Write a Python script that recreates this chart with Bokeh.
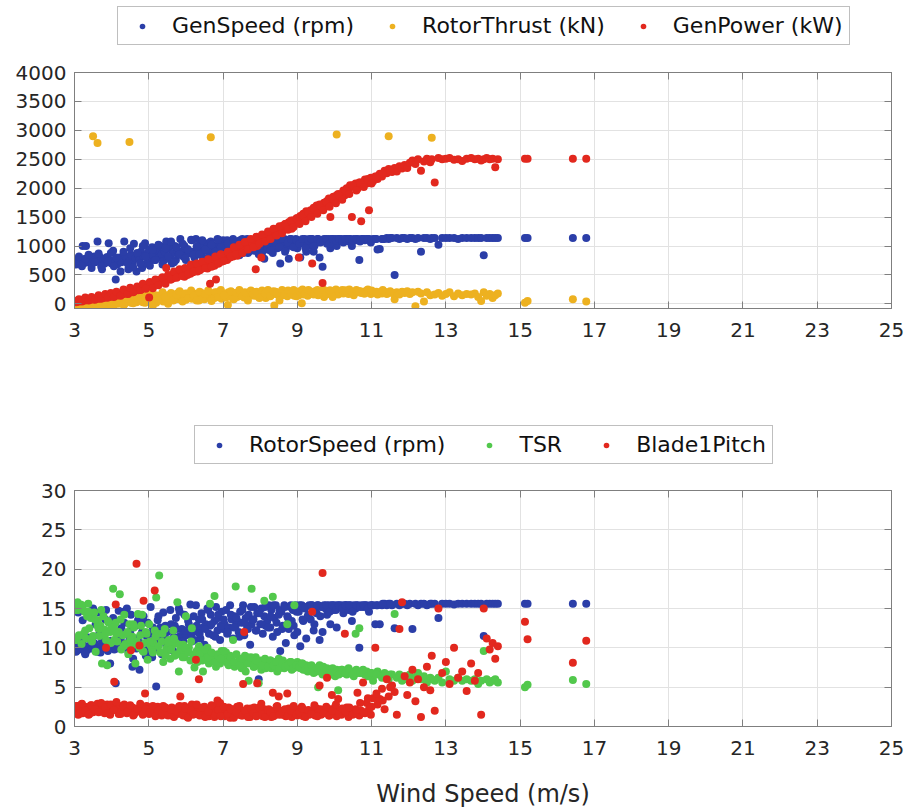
from bokeh.plotting import figure
from bokeh.layouts import column
from bokeh.models import Range1d, FixedTicker, LinearAxis, Legend, LegendItem
from bokeh.embed import file_html
from bokeh.resources import INLINE

# ---------------- data ----------------
wind = [
    3.02, 3.05, 3.08, 3.10, 3.13, 3.16, 3.19, 3.22, 3.25, 3.28,
    3.31, 3.34, 3.37, 3.40, 3.44, 3.47, 3.50, 3.53, 3.57, 3.62,
    3.63, 3.67, 3.70, 3.74, 3.78, 3.81, 3.85, 3.88, 3.92, 3.96,
    4.00, 4.04, 4.07, 4.11, 4.15, 4.19, 4.22, 4.26, 4.30, 4.34,
    4.37, 4.41, 4.45, 4.48, 4.52, 4.56, 4.60, 4.64, 4.67, 4.71,
    4.75, 4.79, 4.82, 4.86, 4.90, 4.94, 4.97, 5.01, 5.05, 5.09,
    5.12, 5.16, 5.20, 5.24, 5.28, 5.31, 5.35, 5.39, 5.43, 5.47,
    5.50, 5.54, 5.58, 5.62, 5.66, 5.70, 5.73, 5.77, 5.81, 5.85,
    5.89, 5.93, 5.96, 6.00, 6.04, 6.08, 6.12, 6.16, 6.19, 6.23,
    6.27, 6.31, 6.35, 6.39, 6.42, 6.46, 6.50, 6.54, 6.58, 6.62,
    6.65, 6.67, 6.73, 6.77, 6.81, 6.85, 6.88, 6.92, 6.96, 7.00,
    7.04, 7.08, 7.11, 7.15, 7.19, 7.23, 7.27, 7.31, 7.34, 7.38,
    7.42, 7.46, 7.50, 7.54, 7.57, 7.61, 7.65, 7.69, 7.73, 7.77,
    7.80, 7.84, 7.88, 7.92, 7.96, 8.00, 8.03, 8.07, 8.11, 8.15,
    8.19, 8.23, 8.27, 8.30, 8.34, 8.38, 8.42, 8.46, 8.50, 8.54,
    8.57, 8.61, 8.65, 8.69, 8.73, 8.77, 8.81, 8.85, 8.88, 8.92,
    8.96, 9.00, 9.04, 9.08, 9.12, 9.16, 9.20, 9.24, 9.28, 9.32,
    9.36, 9.40, 9.44, 9.48, 9.52, 9.56, 9.60, 9.64, 9.68, 9.72,
    9.76, 9.80, 9.85, 9.89, 9.93, 9.97, 10.02, 10.06, 10.10, 10.15,
    10.19, 10.24, 10.28, 10.33, 10.38, 10.42, 10.47, 10.52, 10.57, 10.62,
    10.67, 10.72, 10.77, 10.82, 10.87, 10.93, 10.98, 11.04, 11.10, 11.16,
    11.22, 11.28, 11.35, 11.41, 11.46, 11.55, 11.62, 11.68, 11.75, 11.82,
    11.89, 11.96, 12.03, 12.10, 12.18, 12.25, 12.33, 12.41, 12.49, 12.58,
    12.62, 12.70, 12.80, 12.90, 13.00, 13.10, 13.22, 13.33, 13.44, 13.56,
    13.68, 13.78, 13.87, 13.95, 14.02, 14.10, 14.18, 14.26, 14.33, 14.40,
    15.13, 15.20, 16.42, 16.78,
    3.04, 3.12, 3.20, 3.29, 3.38, 3.46, 3.55, 3.65, 3.72, 3.83,
    3.90, 3.98, 4.06, 4.13, 4.24, 4.32, 4.43, 4.50, 4.58, 4.69,
    4.77, 4.84, 4.92, 5.03, 5.11, 5.18, 5.26, 5.37, 5.45, 5.52,
    5.60, 5.68, 5.75, 5.83, 5.91, 5.98, 6.06, 6.14, 6.21, 6.29,
    6.37, 6.44, 6.52, 6.60, 6.69, 6.79, 6.87, 6.94, 7.02, 7.13,
    7.21, 7.29, 7.36, 7.44, 7.52, 7.59, 7.67, 7.75, 7.82, 7.90,
    7.98, 8.05, 8.13, 8.21, 8.28, 8.36, 8.44, 8.52, 8.59, 8.67,
    8.75, 8.83, 8.90, 8.98, 9.06, 9.14, 9.22, 9.30, 9.38, 9.46,
    9.54, 9.62, 9.70, 9.78, 9.87, 9.95, 10.04, 10.12, 10.21, 10.30,
    10.40, 10.49, 10.59, 10.69, 10.79, 10.90, 11.00, 11.13, 11.30, 11.50,
]

gen_speed = [
    740, 700, 760, 720, 780, 690, 750, 1000, 730, 710,
    1000, 720, 760, 800, 740, 700, 770, 820, 730, 1080,
    780, 820, 760, 600, 740, 700, 780, 810, 1050, 750,
    700, 920, 760, 420, 680, 740, 800, 720, 760, 1080,
    820, 780, 600, 740, 850, 700, 1040, 790, 560, 830,
    760, 900, 620, 820, 1050, 700, 880, 940, 780, 980,
    850, 760, 380, 920, 800, 1000, 860, 740, 900, 1080,
    780, 960, 830, 700, 880, 1000, 760, 920, 850, 1120,
    900, 820, 1000, 760, 950, 870, 640, 1100, 900, 800,
    1120, 880, 960, 1080, 840, 1000, 920, 780, 1050, 900,
    960, 1080, 840, 1000, 900, 1120, 860, 1040, 940, 1100,
    1000, 880, 1100, 960, 1060, 920, 1120, 1000, 860, 1080,
    940, 1100, 1020, 880, 1080, 960, 1120, 900, 1040, 980,
    1060, 920, 1000, 1120, 860, 960, 1100, 1020, 780, 1080,
    940, 1120, 1000, 1080, 880, 1120, 1040, 960, 1100, 700,
    1080, 1000, 1120, 940, 1060, 780, 1120, 1000, 1100, 1020,
    1120, 960, 1080, 800, 1100, 1040, 1120, 900, 1060, 1120,
    1000, 1120, 900, 1100, 1060, 1120, 800, 1080, 640, 1120,
    1100, 1040, 1120, 960, 1120, 1080, 1120, 1000, 1120, 1100,
    1120, 1060, 1120, 1120, 1080, 1120, 1000, 1120, 1100, 1120,
    760, 1120, 1120, 1100, 1120, 1120, 1060, 1120, 1120, 940,
    950, 1120, 1120, 1140, 1120, 1140, 500, 1140, 1120, 1140,
    1140, 1120, 1140, 1140, 1120, 1140, 900, 1140, 1140, 1120,
    1140, 1140, 1020, 1140, 1140, 1140, 1140, 1120, 1140, 1140,
    1140, 1140, 1140, 1140, 840, 1140, 1140, 1140, 1140, 1140,
    1140, 1140, 1140, 1140,
    680, 820, 650, 780, 850, 620, 720, 870, 640, 790,
    730, 880, 650, 800, 560, 900, 700, 960, 630, 880,
    700, 1000, 820, 660, 930, 760, 1020, 680, 960, 820,
    1080, 720, 980, 860, 1040, 790, 930, 1110, 850, 990,
    860, 1100, 940, 800, 1020, 900, 1110, 980, 840, 1040,
    900, 1080, 980, 840, 1120, 1000, 880, 1060, 940, 1110,
    1000, 880, 1120, 1040, 920, 1100, 1060, 980, 1120, 900,
    1060, 1120, 980, 1100, 1040, 1120, 960, 1100, 1120, 1000,
    1120, 1060, 1100, 1120, 1040, 1120, 1100, 1120, 1080, 1120,
    1120, 1100, 1120, 1080, 1120, 1120, 1100, 1120, 1120, 1140,
]

rotor_thrust = [
    20, -40, 10, -30, 30, -50, 0, 40, -20, 10,
    -20, 30, 0, 20, -40, 10, 2900, 40, -10, 2780,
    30, -30, 50, 0, -20, 40, 20, -10, 50, 60,
    20, 80, -20, 40, 60, 0, 30, 90, 50, -10,
    40, 100, 60, 2800, 20, 90, 70, 120, 30, 80,
    110, 50, 130, 80, 20, 140, 100, 60, 150, 90,
    60, 120, 20, 140, 100, 80, 160, 40, 130, 110,
    150, 90, 130, 170, 60, 140, 110, 180, 80, 120,
    100, 160, 140, 70, 180, 120, 150, 90, 190, 130,
    110, 170, 60, 150, 190, 130, 80, 160, 120, 200,
    140, 2880, 180, 100, 160, 200, 120, 170, 90, 150,
    180, 110, 160, 200, 130, 170, 90, 190, 150, 120,
    160, 200, 140, 180, 110, 190, 170, 130, 210, 150,
    180, 140, 200, 160, 120, 190, 150, 210, 170, 100,
    150, 190, 130, 200, 170, -30, 210, 160, 180, 140,
    190, 150, 210, 170, 130, 200, 180, 160, 220, 140,
    170, 200, 150, 190, 10, 160, 180, 210, 140, 200,
    180, 200, 160, 220, 190, 150, 210, 170, 200, 120,
    190, 210, 170, 230, 180, 200, 220, 2930, 160, 190,
    210, 180, 230, 200, 170, 220, 190, 150, 210, 200,
    220, 190, 210, 180, 230, 200, 170, 210, 190, 160,
    200, 180, 210, 170, 2900, 190, 80, 200, 160, 210,
    190, 220, 170, 200, -40, 210, 180, 40, 200, 150,
    2870, 160, 190, 140, 170, 200, 130, 180, 150, 170,
    160, 180, 120, 50, 200, 140, 170, 100, 150, 180,
    20, 50, 80, 40,
    -60, 50, -30, 70, -10, 60, 30, -50, 80, 10,
    70, -40, 110, 30, 130, -20, 90, 150, 10, 120,
    170, 30, 100, 190, -30, 150, 60, 200, 120, 0,
    190, 70, 160, 220, 40, 180, 100, 230, 140, 60,
    210, 90, 170, 230, 50, 200, 120, 240, 150, -20,
    220, 80, 190, 240, 130, 200, 60, 230, 170, 210,
    100, 230, 180, 240, 140, 220, 190, 60, 240, 200,
    230, 180, 240, 130, 220, 250, 170, 240, 210, 190,
    240, 200, 250, 180, 230, 120, 250, 210, 240, 230,
    250, 200, 240, 220, 180, 250, 230, 210, 240, 220,
]

gen_power = [
    40, 45, 50, 35, 55, 60, 50, 65, 70, 60,
    70, 65, 75, 80, 70, 85, 90, 80, 95, 90,
    100, 95, 110, 105, 100, 120, 115, 110, 130, 125,
    130, 140, 135, 150, 145, 160, 155, 170, 165, 180,
    190, 210, 175, 230, 205, 250, 215, 240, 260, 235,
    270, 245, 300, 280, 320, 290, 340, 110, 310, 360,
    330, 380, 340, 400, 360, 420, 380, 440, 410, 620,
    430, 470, 420, 500, 445, 480, 520, 470, 540, 510,
    490, 540, 470, 560, 500, 580, 520, 600, 545, 590,
    600, 560, 640, 590, 680, 620, 700, 650, 610, 720,
    350, 680, 740, 660, 420, 770, 700, 790, 730, 820,
    780, 850, 760, 880, 800, 900, 820, 940, 870, 830,
    960, 890, 1000, 920, 1050, 950, 1010, 1080, 980, 1060,
    1040, 1100, 600, 1000, 1130, 1070, 800, 1150, 1090, 1180,
    1120, 1200, 1160, 1250, 1190, 1280, 1220, 1300, 1240, 1320,
    1270, 1350, 1300, 1380, 1320, 1410, 1350, 1300, 1440, 1400,
    1420, 1480, 800, 1520, 1450, 1560, 1500, 1600, 1540, 1580,
    1620, 700, 1660, 1580, 1700, 1640, 1720, 1680, 360, 1750,
    1700, 1780, 1820, 1500, 1760, 1850, 1800, 1880, 1900, 1850,
    1900, 1960, 1880, 2000, 1940, 2050, 1500, 2020, 2080, 1990,
    2100, 1430, 2050, 2150, 2080, 1620, 2180, 2120, 2200, 2160,
    2250, 2200, 2300, 2260, 2330, 2280, 2350, 2290, 2380, 2340,
    2400, 2350, 2440, 2480, 2420, 2500, 2300, 2460, 2510, 2450,
    2500, 2100, 2520, 2500, 2510, 2520, 2490, 2500, 2470, 2510,
    2520, 2500, 2510, 2480, 2500, 2520, 2500, 2510, 2360, 2500,
    2510, 2510, 2510, 2510,
    30, 80, 40, 110, 60, 120, 70, 150, 90, 170,
    110, 190, 120, 210, 140, 250, 170, 280, 200, 300,
    240, 350, 260, 380, 270, 420, 320, 460, 350, 500,
    420, 560, 450, 600, 480, 620, 520, 680, 560, 700,
    580, 730, 620, 770, 640, 820, 700, 860, 740, 900,
    820, 980, 860, 1020, 880, 1070, 940, 1120, 980, 1160,
    1040, 1200, 1080, 1250, 1120, 1300, 1180, 1340, 1220, 1380,
    1280, 1440, 1330, 1480, 1380, 1530, 1430, 1580, 1500, 1640,
    1560, 1700, 1620, 1760, 1680, 1820, 1740, 1880, 1800, 1960,
    1900, 2050, 1960, 2100, 2020, 2160, 2080, 2200, 2250, 2300,
]

rotor_speed = [
    10.2, 9.6, 10.5, 14.5, 9.8, 10.0, 15.0, 13.5, 10.3, 9.4,
    10.0, 9.7, 11.3, 14.0, 10.4, 9.9, 15.0, 10.6, 13.0, 9.5,
    10.2, 14.5, 9.4, 10.8, 12.0, 10.0, 14.8, 9.8, 10.5, 8.0,
    10.8, 13.8, 9.8, 5.5, 11.2, 14.7, 10.1, 12.5, 10.6, 13.2,
    10.2, 15.0, 9.5, 11.0, 14.2, 7.6, 10.8, 12.8, 9.9, 13.5,
    7.2, 10.5, 12.0, 14.0, 9.6, 11.5, 13.2, 10.2, 15.2, 8.8,
    11.8, 9.8, 5.1, 13.5, 10.8, 12.6, 9.2, 14.5, 11.2, 10.4,
    12.0, 10.2, 14.8, 11.0, 9.6, 12.8, 13.8, 10.6, 15.0, 11.5,
    12.4, 10.8, 14.2, 11.6, 9.4, 13.0, 15.5, 10.8, 12.2, 11.0,
    15.4, 12.0, 13.6, 11.2, 14.4, 12.6, 10.4, 13.0, 15.0, 11.8,
    12.8, 14.2, 11.6, 13.4, 15.2, 12.2, 13.8, 11.0, 14.6, 12.4,
    13.0, 14.8, 11.8, 12.6, 15.4, 13.6, 11.2, 14.0, 12.8, 13.4,
    12.0, 14.6, 13.2, 15.4, 11.6, 13.8, 12.6, 14.2, 10.4, 13.0,
    13.6, 15.2, 12.2, 14.4, 6.0, 13.0, 15.0, 11.8, 14.0, 12.8,
    13.4, 15.4, 12.6, 14.8, 11.4, 13.8, 15.4, 12.0, 14.2, 9.6,
    14.6, 12.8, 15.4, 10.6, 14.0, 12.4, 15.2, 13.4, 14.8, 11.6,
    15.4, 12.0, 14.6, 10.2, 15.4, 13.4, 15.0, 11.2, 14.0, 15.4,
    13.6, 15.4, 12.2, 15.0, 14.4, 15.4, 11.0, 15.2, 12.0, 15.4,
    15.0, 14.2, 15.4, 13.0, 15.4, 14.8, 15.4, 12.6, 15.4, 15.2,
    15.4, 14.4, 15.4, 15.4, 14.8, 15.4, 13.4, 15.4, 15.0, 15.4,
    10.0, 15.4, 15.2, 15.4, 15.4, 14.6, 15.4, 15.4, 13.0, 15.4,
    13.0, 15.4, 15.6, 15.4, 15.6, 15.4, 12.5, 15.6, 15.4, 15.6,
    15.6, 15.4, 15.6, 12.4, 15.6, 15.4, 15.6, 15.6, 15.4, 15.6,
    15.6, 15.6, 13.8, 15.6, 15.6, 15.6, 15.5, 15.6, 15.6, 15.6,
    15.6, 15.6, 15.6, 15.6, 11.5, 15.6, 15.6, 15.6, 15.6, 15.6,
    15.6, 15.6, 15.6, 15.6,
    9.5, 11.0, 10.8, 9.2, 14.0, 10.6, 9.8, 11.6, 10.2, 13.6,
    9.6, 10.9, 12.2, 9.9, 11.4, 14.6, 10.0, 12.0, 8.6, 11.2,
    10.6, 13.2, 9.0, 11.8, 12.6, 10.4, 14.0, 11.0, 12.8, 9.8,
    13.0, 11.4, 12.4, 14.6, 10.8, 12.2, 13.4, 11.6, 14.0, 12.8,
    11.8, 13.6, 12.4, 14.8, 13.0, 11.4, 14.2, 12.8, 13.6, 12.0,
    14.2, 12.6, 13.8, 11.4, 14.8, 13.2, 12.4, 15.2, 13.6, 12.2,
    14.4, 13.0, 15.2, 12.6, 14.0, 15.4, 13.2, 14.8, 12.4, 15.2,
    13.8, 15.4, 12.8, 14.6, 15.4, 13.6, 15.2, 14.2, 15.4, 13.0,
    15.4, 14.0, 15.2, 15.4, 14.6, 15.4, 14.8, 15.4, 15.0, 15.4,
    15.4, 14.6, 15.4, 15.2, 15.4, 15.0, 15.4, 15.4, 15.6, 15.6,
]

tsr = [
    15.2, 11.0, 15.8, 14.8, 11.5, 15.5, 10.5, 15.0, 11.8, 14.6,
    11.2, 14.0, 15.6, 12.5, 13.8, 10.8, 11.5, 14.5, 9.5, 12.8,
    13.5, 11.5, 12.8, 8.0, 14.0, 12.3, 11.0, 7.8, 13.2, 12.0,
    12.5, 17.5, 11.0, 13.2, 10.8, 12.0, 16.8, 9.8, 11.6, 14.2,
    10.5, 11.8, 9.2, 13.0, 10.2, 11.4, 12.6, 8.0, 10.8, 14.3,
    10.0, 12.8, 14.2, 9.5, 10.6, 11.8, 8.5, 13.0, 10.3, 9.8,
    10.6, 12.2, 16.4, 11.8, 19.2, 9.4, 10.8, 8.2, 12.4, 9.9,
    9.6, 11.0, 8.6, 10.2, 12.2, 9.0, 10.6, 15.8, 7.0, 9.8,
    9.4, 10.4, 8.8, 14.0, 9.8, 10.0, 8.4, 12.5, 9.2, 7.5,
    9.0, 8.2, 10.2, 9.6, 8.8, 7.0, 9.4, 8.6, 10.0, 8.0,
    15.6, 9.0, 8.4, 16.6, 7.6, 9.2, 8.8, 8.0, 9.6, 8.6,
    8.6, 9.4, 8.2, 7.8, 9.0, 8.4, 11.0, 7.6, 17.8, 8.2,
    8.0, 8.6, 7.4, 7.6, 8.4, 7.0, 8.8, 5.8, 8.2, 17.5,
    8.2, 7.6, 8.8, 7.8, 5.5, 8.4, 7.2, 8.0, 16.0, 7.4,
    8.0, 7.6, 8.4, 7.4, 16.5, 8.2, 7.8, 7.0, 8.6, 7.6,
    7.8, 8.4, 7.4, 8.0, 13.0, 7.6, 8.2, 7.2, 7.8, 15.4,
    7.6, 8.2, 7.8, 7.4, 8.0, 7.2, 7.6, 7.8, 7.0, 7.4,
    7.2, 7.6, 6.8, 7.4, 7.0, 5.0, 7.8, 7.2, 6.6, 7.4,
    7.0, 7.4, 6.8, 7.2, 6.6, 7.0, 6.4, 7.2, 4.6, 6.8,
    7.2, 6.8, 7.0, 6.6, 7.4, 6.8, 7.0, 6.4, 11.8, 6.8,
    12.5, 6.8, 7.2, 6.6, 7.0, 6.4, 6.8, 5.8, 6.6, 7.0,
    6.6, 6.2, 6.8, 6.4, 6.0, 6.6, 14.3, 6.2, 6.6, 5.8,
    6.4, 6.0, 6.6, 5.8, 6.2, 6.8, 6.0, 6.4, 5.6, 6.2,
    6.0, 5.8, 6.2, 5.6, 7.0, 6.0, 5.8, 6.2, 5.8, 6.0,
    5.8, 6.0, 5.4, 5.8, 9.6, 6.0, 5.6, 5.8, 6.0, 5.6,
    5.0, 5.3, 5.9, 5.4,
    14.8, 11.6, 15.4, 12.2, 14.6, 11.0, 13.6, 12.4, 14.8, 11.8,
    13.4, 10.6, 12.6, 11.8, 13.6, 10.2, 12.0, 11.0, 13.0, 10.4,
    11.6, 9.6, 12.0, 10.8, 9.4, 11.4, 10.2, 11.8, 9.0, 10.6,
    9.8, 11.2, 9.2, 10.4, 8.8, 10.0, 9.4, 10.8, 8.6, 9.6,
    9.2, 8.4, 9.8, 8.8, 9.4, 8.2, 9.0, 8.6, 9.6, 8.0,
    8.8, 8.2, 9.2, 7.8, 8.6, 9.0, 8.0, 8.8, 7.6, 8.4,
    8.2, 7.8, 8.6, 7.6, 8.4, 7.8, 8.2, 7.4, 8.0, 7.6,
    7.8, 8.2, 7.4, 7.8, 7.6, 8.0, 7.2, 7.6, 7.8, 7.0,
    7.4, 7.0, 7.6, 7.2, 6.8, 7.4, 7.0, 6.6, 7.2, 6.8,
    7.0, 6.6, 7.2, 6.8, 7.0, 6.4, 6.8, 6.6, 6.4, 6.6,
]

blade1_pitch = [
    2.2, 1.8, 2.6, 1.5, 2.4, 2.0, 2.8, 1.7, 2.3, 2.5,
    1.9, 2.4, 2.1, 1.6, 2.7, 2.2, 1.8, 2.5, 2.0, 2.9,
    2.3, 1.9, 2.6, 2.2, 2.1, 1.7, 10.0, 2.8, 2.0, 1.5,
    2.0, 2.4, 5.7, 15.5, 2.3, 1.6, 2.6, 1.9, 2.2, 2.8,
    2.1, 1.7, 2.5, 2.3, 9.7, 2.4, 1.5, 1.8, 20.7, 1.9,
    10.3, 2.1, 2.3, 16.0, 4.2, 2.6, 2.0, 1.6, 2.4, 2.2,
    2.3, 17.3, 1.9, 2.5, 1.7, 2.2, 1.4, 2.6, 2.0, 1.8,
    1.5, 2.2, 1.8, 2.4, 1.3, 2.0, 1.7, 1.6, 2.5, 3.8,
    2.1, 1.4, 2.6, 1.7, 1.2, 2.3, 1.8, 2.8, 1.5, 2.0,
    8.5, 1.6, 6.0, 2.2, 1.9, 1.4, 2.5, 1.7, 2.0, 1.3,
    1.5, 2.2, 1.8, 1.2, 2.6, 3.3, 1.6, 3.0, 1.4, 1.9,
    1.3, 2.0, 1.6, 2.4, 1.1, 1.8, 2.2, 1.4, 1.7, 2.5,
    1.5, 2.1, 1.4, 5.4, 12.0, 1.9, 2.3, 1.6, 1.2, 2.0,
    1.8, 2.4, 1.4, 5.5, 2.0, 1.6, 2.9, 1.3, 2.2, 1.7,
    1.4, 2.2, 1.7, 1.2, 4.3, 2.0, 1.5, 2.6, 3.8, 1.8,
    2.0, 1.5, 1.8, 1.3, 4.2, 2.3, 1.6, 1.2, 2.1, 1.7,
    1.9, 1.4, 2.2, 1.6, 2.5, 1.3, 1.7, 1.8, 2.0, 1.5,
    1.6, 14.6, 2.0, 1.4, 2.3, 1.7, 5.2, 1.5, 19.5, 2.1,
    1.8, 6.2, 1.4, 2.2, 4.0, 1.6, 2.5, 1.3, 3.5, 2.0,
    1.5, 2.0, 11.8, 2.4, 1.2, 1.9, 1.8, 1.6, 2.2, 4.3,
    1.4, 2.0, 5.6, 1.7, 3.0, 2.2, 1.5, 3.6, 10.0, 2.8,
    3.5, 4.8, 2.2, 6.0, 3.8, 5.2, 4.4, 1.5, 12.4, 15.8,
    6.4, 4.0, 5.6, 7.2, 3.2, 6.0, 1.2, 5.0, 7.6, 4.6,
    9.0, 2.0, 15.0, 6.8, 8.2, 5.4, 10.0, 6.2, 7.0, 4.5,
    8.0, 5.8, 6.8, 1.5, 15.0, 11.2, 9.8, 10.6, 8.6, 10.2,
    13.3, 11.1, 8.1, 10.9,
    2.6, 1.6, 2.9, 2.0, 1.5, 2.7, 2.2, 1.8, 3.0, 2.4,
    1.7, 2.8, 2.1, 3.1, 1.6, 2.5, 1.9, 2.7, 1.4, 2.3,
    2.9, 1.5, 2.2, 1.8, 2.6, 1.3, 2.0, 1.7, 2.4, 1.4,
    2.1, 1.2, 1.9, 2.6, 1.5, 2.3, 1.1, 2.0, 1.6, 2.8,
    1.4, 2.4, 1.2, 1.9, 2.7, 1.5, 2.1, 1.3, 2.5, 1.6,
    2.2, 1.1, 1.8, 2.6, 1.4, 2.0, 1.2, 2.3, 1.7, 1.3,
    2.4, 1.6, 1.2, 2.1, 1.8, 1.3, 2.5, 1.5, 1.9, 2.2,
    1.4, 2.0, 2.6, 1.5, 1.8, 2.3, 1.2, 2.1, 1.6, 2.7,
    1.3, 2.2, 1.7, 2.5, 1.4, 2.0, 2.8, 1.6, 2.3, 1.9,
    2.4, 1.5, 2.1, 3.0, 1.8, 3.6, 2.5, 4.2, 3.3, 5.0,
]

x_ticks = [3, 5, 7, 9, 11, 13, 15, 17, 19, 21, 23, 25]
top_y_ticks = [0, 500, 1000, 1500, 2000, 2500, 3000, 3500, 4000]
bot_y_ticks = [0, 5, 10, 15, 20, 25, 30]

top_labels = ["GenSpeed (rpm)", "RotorThrust (kN)", "GenPower (kW)"]
bot_labels = ["RotorSpeed (rpm)", "TSR", "Blade1Pitch"]

# ---------------- styling ----------------
FONT = "DejaVu Sans"
BLUE = "#2b3ea8"
ORANGE = "#edb120"
RED = "#e2281e"
GREEN = "#52c84c"
BOX = "#7f7f7f"
TXT = "#262626"
MS = 8


def style_axis(ax, ticks, show_labels):
    ax.ticker = FixedTicker(ticks=ticks)
    ax.axis_line_color = BOX
    ax.axis_line_width = 1
    ax.major_tick_line_color = BOX
    ax.major_tick_in = 7
    ax.major_tick_out = 0
    ax.minor_tick_line_color = None
    ax.major_label_text_font = FONT
    ax.major_label_text_font_size = "20px"
    ax.major_label_text_color = TXT
    if not show_labels:
        ax.major_label_overrides = {t: "" for t in ticks}
        ax.major_label_standoff = 0


def make_fig(h, ylo, yhi, yticks, btop, bbot):
    p = figure(width=907, height=h, x_range=Range1d(3, 25), y_range=Range1d(ylo, yhi),
               output_backend="svg", toolbar_location=None,
               min_border_left=74, min_border_right=16,
               min_border_top=btop, min_border_bottom=bbot)
    p.outline_line_color = BOX
    p.background_fill_color = "white"
    p.border_fill_color = "white"
    xb = p.xaxis[0]
    yl = p.yaxis[0]
    style_axis(xb, x_ticks, True)
    style_axis(yl, yticks, True)
    xb.major_label_standoff = 14
    yl.major_label_standoff = 8
    top_ax = LinearAxis()
    right_ax = LinearAxis()
    style_axis(top_ax, x_ticks, False)
    style_axis(right_ax, yticks, False)
    p.add_layout(top_ax, "above")
    p.add_layout(right_ax, "right")
    p.xgrid.ticker = FixedTicker(ticks=x_ticks)
    p.ygrid.ticker = FixedTicker(ticks=yticks)
    p.grid.grid_line_color = "#e2e2e2"
    p.grid.grid_line_width = 1
    return p, xb


def make_legend_fig(h, labels, series, colors, loc, spacing):
    # legend strip; its ranges lie left of every wind speed, so the series
    # drawn here (only to feed the legend glyphs) stay outside its frame
    q = figure(width=907, height=h, x_range=Range1d(0, 1), y_range=Range1d(0, 1),
               x_axis_type=None, y_axis_type=None,
               output_backend="svg", toolbar_location=None,
               min_border_left=0, min_border_right=0, min_border_top=0, min_border_bottom=0)
    q.outline_line_color = None
    q.grid.visible = False
    items = []
    for lab, ys, col in zip(labels, series, colors):
        r = q.scatter(wind, ys, size=MS, color=col, line_color=None)
        items.append(LegendItem(label=lab, renderers=[r]))
    leg = Legend(items=items, location=loc, orientation="horizontal",
                 padding=6, spacing=spacing, margin=0,
                 glyph_width=36, glyph_height=14, label_standoff=12,
                 label_text_font=FONT, label_text_font_size="22px",
                 label_text_color="#111111",
                 border_line_color=BOX, border_line_width=1,
                 background_fill_color="white", background_fill_alpha=1)
    q.add_layout(leg, "center")
    return q


# ---------------- top panel ----------------
lg1 = make_legend_fig(60, top_labels, [gen_speed, rotor_thrust, gen_power],
                      [BLUE, ORANGE, RED], (43, 15), 20)
p1, xb1 = make_fig(320, -80, 4000, top_y_ticks, 12, 72)
p1.scatter(wind, gen_speed, size=MS, color=BLUE, line_color=None)
p1.scatter(wind, rotor_thrust, size=MS, color=ORANGE, line_color=None)
p1.scatter(wind, gen_power, size=MS, color=RED, line_color=None)

# ---------------- bottom panel ----------------
lg2 = make_legend_fig(100, bot_labels, [rotor_speed, tsr, blade1_pitch],
                      [BLUE, GREEN, RED], (120, 16), 26)
p2, xb2 = make_fig(330, 0, 30, bot_y_ticks, 10, 84)
p2.scatter(wind, rotor_speed, size=MS, color=BLUE, line_color=None)
p2.scatter(wind, tsr, size=MS, color=GREEN, line_color=None)
p2.scatter(wind, blade1_pitch, size=MS, color=RED, line_color=None)
xb2.axis_label = "Wind Speed (m/s)"
xb2.axis_label_text_font = FONT
xb2.axis_label_text_font_size = "24px"
xb2.axis_label_text_font_style = "normal"
xb2.axis_label_text_color = TXT
xb2.axis_label_standoff = 22

layout = column(lg1, p1, lg2, p2, spacing=0)
open("out.html", "w").write(file_html(layout, INLINE))
